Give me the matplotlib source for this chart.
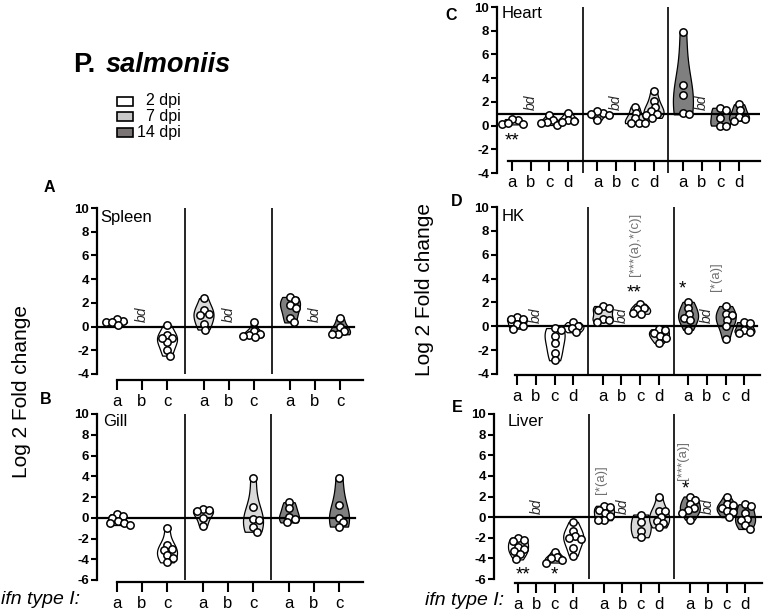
import numpy as np
import matplotlib
matplotlib.use('Agg')
import matplotlib.pyplot as plt
from matplotlib.patches import Rectangle

plt.rcParams['font.family'] = ['Liberation Sans', 'DejaVu Sans']

# ---------------- data ----------------
dpi_labels = ['2 dpi', '7 dpi', '14 dpi']
dpi_colors = ['#ffffff', '#d9d9d9', '#7f7f7f']
legend_colors = ['#ffffff', '#c8c8c8', '#7a7474']
genes3 = ['a', 'b', 'c']
genes4 = ['a', 'b', 'c', 'd']

# None = below detection ("bd"), [] = nothing drawn
spleen_2dpi = [[0.45, 0.35, 0.65, 0.4, 0.15], None, [0.1, -0.7, -1.0, -1.3, -2.0, -2.45, -1.0]]
spleen_7dpi = [[2.4, 1.4, 1.1, 1.0, 0.25, -0.25], None, [0.4, -0.4, -0.6, -0.7, -0.8, -0.9]]
spleen_14dpi = [[2.5, 2.2, 1.8, 1.6, 0.75, 0.35], None, [0.75, 0.0, -0.4, -0.6, -0.65]]

gill_2dpi = [[0.35, 0.2, 0.0, -0.3, -0.5, -0.55, -0.7], [], [-1.0, -2.6, -3.0, -3.1, -3.6, -3.9, -4.3]]
gill_7dpi = [[0.8, 0.75, 0.65, 0.0, -0.8], [], [3.8, 1.05, -0.15, -0.25, -0.85, -1.35]]
gill_14dpi = [[1.5, 0.9, 0.1, -0.15, -0.45], [], [3.8, 1.2, 0.0, -0.45, -0.85]]

heart_2dpi = [[0.5, 0.55, 0.15, 0.1, 0.2], None, [0.85, 0.45, 0.3, 0.2, 0.05], [1.1, 0.5, 0.4, 0.3]]
heart_7dpi = [[1.1, 1.2, 0.85, 0.45, 1.0], None, [1.6, 1.1, 0.6, 0.2, 0.2, 0.2], [2.9, 2.1, 1.6, 1.2, 1.0, 0.9, 0.65]]
heart_14dpi = [[7.9, 3.45, 2.55, 1.1, 0.95], None, [1.5, 1.3, 0.6, 0.0, 0.0], [1.8, 1.3, 0.7, 0.55, 0.4]]

hk_2dpi = [[0.75, 0.65, 0.6, 0.2, 0.0, -0.2], None, [-0.15, -0.35, -0.8, -1.4, -2.2, -2.85], [0.35, 0.0, -0.15, -0.5]]
hk_7dpi = [[1.7, 1.5, 1.35, 0.65, 0.5, 0.4], None, [1.9, 1.5, 1.45, 1.1, 1.05], [-0.25, -0.35, -0.6, -0.8, -1.0, -1.4]]
hk_14dpi = [[2.05, 1.5, 1.0, 0.7, 0.5, -0.3], None, [1.7, 1.0, 0.95, 0.5, 0.0, -1.05], [0.35, 0.3, -0.3, -0.5, -0.55]]

liver_2dpi = [[-2.0, -2.25, -2.35, -2.85, -3.05, -3.3, -3.6, -4.1], None, [-3.35, -3.9, -4.0, -4.2, -4.4],
              [-0.45, -1.3, -1.85, -2.0, -2.1, -3.0, -3.75]]
liver_7dpi = [[1.1, 1.0, 0.7, 0.4, 0.15, -0.25, -0.3], None, [0.25, -0.45, -1.3, -1.95],
              [1.95, 0.6, 0.6, 0.05, -0.4, -0.6, -1.0]]
liver_14dpi = [[2.0, 1.7, 1.25, 0.85, 0.7, 0.4, -0.25], None, [2.0, 1.25, 1.2, 0.9, 0.55, 0.5, 0.0],
               [1.25, 1.05, 0.4, -0.15, -0.25, -0.75, -1.15]]

# significance marks: (group, gene index, x shift, y, text)
heart_stars = [(0, 0, 0.0, -1.3, '**')]
hk_stars = [(1, 2, -0.3, 2.8, '**'), (2, 0, -0.3, 3.1, '*')]
liver_stars = [(0, 0, 0.25, -5.6, '**'), (0, 2, 0.0, -5.6, '*'), (2, 0, -0.25, 2.7, '*')]
hk_notes = [(1, 2, -0.3, 4.2, '[***(a),*(c)]'), (2, 2, -0.5, 3.0, '[*(a)]')]
liver_notes = [(1, 0, -0.15, 2.2, '[*(a)]'), (2, 0, -0.35, 3.6, '[***(a)]')]

W, H = 765, 612
fig = plt.figure(figsize=(W / 100, H / 100), dpi=100)


def swarm(vals, sx, sy, d=6.0):
    vals = np.asarray(vals, float)
    order = np.argsort(-vals)
    placed = []
    offs = np.zeros(len(vals))
    cands = sorted(np.arange(-14, 14.25, 0.5), key=lambda c: (abs(c), -c))
    for i in order:
        y = vals[i] * sy
        chosen = 0.0
        for c in cands:
            if all((c - px) ** 2 + (y - py) ** 2 >= d ** 2 for px, py in placed):
                chosen = c
                break
        placed.append((chosen, y))
        offs[i] = chosen / sx
    return offs


def violin(ax, x, vals, color, sx, sy, hw_px=10.0):
    v = np.asarray(vals, float)
    n = len(v)
    sd = v.std(ddof=1) if n > 1 else 0.5
    bw = max(1.06 * sd * n ** (-0.2), 0.15)
    grid = np.linspace(v.min(), v.max(), 200)
    dens = np.exp(-0.5 * ((grid[:, None] - v[None, :]) / bw) ** 2).sum(1)
    hw = dens / dens.max() * hw_px / sx
    ax.fill_betweenx(grid, x - hw, x + hw, facecolor=color, edgecolor='black', lw=0.9, zorder=2)


def panel(box, tick0, unit, gstep, groups, genes, ylim, yticks, hline_y, hline_end_px,
          spine_pos, spine_start_px, name, name_pos, bd_y=None, stars=(), notes=()):
    left, right, top, bottom = box
    ax = fig.add_axes([left / W, 1 - bottom / H, (right - left) / W, (bottom - top) / H])
    xl = ((left - tick0) / unit, (right - tick0) / unit)
    ax.set_xlim(*xl)
    ax.set_ylim(*ylim)
    sx = unit
    sy = (bottom - top) / (ylim[1] - ylim[0])
    ng = len(genes)
    pos = []
    for g, grp in enumerate(groups):
        for k, vals in enumerate(grp):
            x = g * gstep + k
            pos.append(x)
            if vals is None:
                if bd_y is not None:
                    ax.text(x, bd_y, 'bd', rotation=90, ha='center', va='center',
                            fontsize=10, style='italic', color='#2a2a2a', zorder=5)
                continue
            if len(vals) == 0:
                continue
            violin(ax, x, vals, dpi_colors[g], sx, sy)
            offs = swarm(vals, sx, sy)
            ax.plot(x + offs, vals, 'o', ms=5.3, mfc='white', mec='black', mew=1.1, zorder=4,
                    clip_on=False)
        if g < len(groups) - 1:
            ax.axvline(g * gstep + (ng - 1 + gstep) / 2, color='black', lw=1.2, zorder=3)
    ax.axhline(hline_y, xmin=0, xmax=(hline_end_px - left) / (right - left), color='black',
               lw=1.6, zorder=3)
    for s in ['top', 'right']:
        ax.spines[s].set_visible(False)
    ax.spines['left'].set_linewidth(1.6)
    ax.spines['bottom'].set_linewidth(1.6)
    ax.spines['bottom'].set_position(spine_pos)
    ax.spines['bottom'].set_bounds((spine_start_px - tick0) / unit, xl[1])
    ax.set_xticks(pos)
    ax.set_xticklabels(genes * len(groups))
    ax.tick_params(axis='x', direction='out', length=7, width=1.5, labelsize=12, pad=3)
    ax.set_yticks(yticks)
    ax.set_yticklabels([str(t) for t in yticks], fontweight='bold')
    ax.tick_params(axis='y', direction='out', length=4, width=1.5, labelsize=9.5, pad=1.5)
    ax.patch.set_alpha(0)
    fig.text(name_pos[0] / W, 1 - name_pos[1] / H, name, fontsize=12, ha='left', va='center')
    for g, k, dx, y, t in stars:
        ax.text(g * gstep + k + dx, y, t, ha='center', va='center', fontsize=13.5, zorder=5)
    for g, k, dx, y, t in notes:
        ax.text(g * gstep + k + dx, y, t, rotation=90, ha='center', va='bottom', fontsize=9.5,
                color='#707070', zorder=5)
    return ax


# A spleen
panel((97, 363, 208, 374), 117, 25.0, 3.46, [spleen_2dpi, spleen_7dpi, spleen_14dpi], genes3,
      (-4, 10), list(range(-4, 11, 2)), 0, 354, ('outward', 4.3), 117, 'Spleen', (100, 217),
      bd_y=1.0)
# B gill
panel((97, 363, 414, 580), 117, 25.0, 3.44, [gill_2dpi, gill_7dpi, gill_14dpi], genes3,
      (-6, 10), list(range(-6, 11, 2)), 0, 355, ('outward', 1.4), 117, 'Gill', (103, 422))
# C heart
panel((497, 760, 7, 173), 512, 18.7, 4.57, [heart_2dpi, heart_7dpi, heart_14dpi], genes4,
      (-4, 10), list(range(-4, 11, 2)), 1, 760, ('data', -3), 508, 'Heart', (502, 14),
      bd_y=1.95, stars=heart_stars)
# D HK
panel((497, 760, 207, 374), 517, 18.8, 4.55, [hk_2dpi, hk_7dpi, hk_14dpi], genes4,
      (-4, 10), list(range(-4, 11, 2)), 0, 757, ('outward', 0.7), 515, 'HK', (502, 216),
      bd_y=0.93, stars=hk_stars, notes=hk_notes)
# E liver
panel((494, 762, 414, 579), 518, 18.4, 4.67, [liver_2dpi, liver_7dpi, liver_14dpi], genes4,
      (-6, 10), list(range(-6, 11, 2)), 0, 762, ('outward', 2.9), 515, 'Liver', (508, 422),
      bd_y=1.05, stars=liver_stars, notes=liver_notes)

# panel letters
for letter, (px, py) in {'A': (49, 188), 'B': (46, 400), 'C': (451, 15), 'D': (457, 202),
                         'E': (457, 407)}.items():
    fig.text(px / W, 1 - py / H, letter, fontsize=11.5, fontweight='bold', ha='center', va='center')

# y labels
fig.text(22 / W, 1 - 392 / H, 'Log 2 Fold change', rotation=90, fontsize=15, ha='center', va='center')
fig.text(424 / W, 1 - 289 / H, 'Log 2 Fold change', rotation=90, fontsize=15, ha='center', va='center')

# ifn type I labels
fig.text(1 / W, 1 - 604 / H, 'ifn type I:', fontsize=14, style='italic', ha='left', va='baseline')
fig.text(425 / W, 1 - 605 / H, 'ifn type I:', fontsize=14, style='italic', ha='left', va='baseline')

# title
fig.text(73 / W, 1 - 72 / H, 'P.', fontsize=19.5, fontweight='bold', ha='left', va='baseline')
fig.text(106 / W, 1 - 72 / H, 'salmoniis', fontsize=19.5, fontweight='bold', style='italic',
         ha='left', va='baseline')

# legend
rows_y = [101, 116.5, 132]
for lab, col, ry in zip(dpi_labels, legend_colors, rows_y):
    fig.patches.append(Rectangle((117 / W, 1 - (ry + 4.5) / H), 16 / W, 9 / H, facecolor=col,
                                 edgecolor='black', lw=1.2, transform=fig.transFigure))
    fig.text(181 / W, 1 - ry / H, lab, fontsize=11.5, ha='right', va='center')

fig.savefig('out.png', dpi=100)
